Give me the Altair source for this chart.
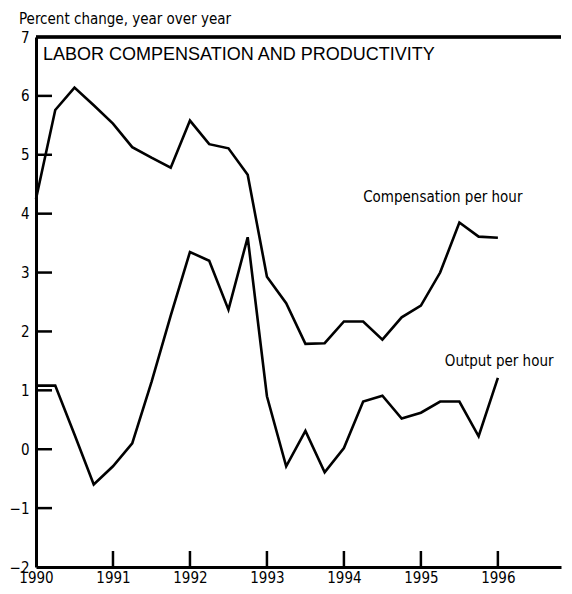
import altair as alt
import pandas as pd

# ---- data ----
quarters = [1990.0, 1990.25, 1990.5, 1990.75, 1991.0, 1991.25, 1991.5, 1991.75,
            1992.0, 1992.25, 1992.5, 1992.75, 1993.0, 1993.25, 1993.5, 1993.75,
            1994.0, 1994.25, 1994.5, 1994.75, 1995.0, 1995.25, 1995.5, 1995.75,
            1996.0]
compensation = [4.25, 5.76, 6.14, 5.84, 5.53, 5.13, 4.95, 4.78,
                5.58, 5.18, 5.11, 4.66, 2.93, 2.48, 1.79, 1.80,
                2.17, 2.17, 1.86, 2.24, 2.44, 3.00, 3.85, 3.61,
                3.59]
output_ph = [1.08, 1.08, 0.25, -0.60, -0.29, 0.10, 1.14, 2.27,
             3.35, 3.20, 2.37, 3.60, 0.90, -0.29, 0.31, -0.39,
             0.02, 0.81, 0.91, 0.52, 0.62, 0.81, 0.81, 0.22,
             1.21]
series_names = ["Compensation per hour", "Output per hour"]
x_tick_values = [1990, 1991, 1992, 1993, 1994, 1995, 1996]
inner_x_ticks = [1991, 1992, 1993, 1994, 1995, 1996]
y_tick_values = [-2, -1, 0, 1, 2, 3, 4, 5, 6, 7]
inner_y_ticks = [-1, 0, 1, 2, 3, 4, 5, 6]
label_text = series_names
label_x = [1994.25, 1995.31]
label_y = [4.28, 1.49]
panel_title = "LABOR COMPENSATION AND PRODUCTIVITY"
panel_title_x = [1990.09]
panel_title_y = [6.69]
y_title = "Percent change, year over year"

X_MAX = 1996.82
W, H = 525, 530
NARROW = "Liberation Sans Narrow, DejaVu Sans Condensed, Roboto Condensed, sans-serif"

lines_df = pd.DataFrame({
    "t": quarters * 2,
    "v": compensation + output_ph,
    "s": [series_names[0]] * len(quarters) + [series_names[1]] * len(quarters),
})
xt_df = pd.DataFrame({"t": inner_x_ticks})
yt_df = pd.DataFrame({"v": inner_y_ticks})
lab_df = pd.DataFrame({"label": label_text, "t": label_x, "v": label_y})
ptitle_df = pd.DataFrame({"label": [panel_title], "t": panel_title_x, "v": panel_title_y})

xs = alt.Scale(domain=[1990, X_MAX], nice=False, zero=False)
ys = alt.Scale(domain=[-2, 7], nice=False, zero=False)

x_axis = alt.Axis(values=x_tick_values, format="d", ticks=False, grid=False,
                  domainColor="black", domainWidth=3, labelFont=NARROW,
                  labelFontSize=15, labelColor="black", labelPadding=3,
                  labelFlush=False, title=None)
y_axis = alt.Axis(values=y_tick_values, format="d", ticks=False, grid=False,
                  domainColor="black", domainWidth=3, labelFont=NARROW,
                  labelFontSize=15, labelColor="black", labelPadding=7,
                  labelFlush=False,
                  labelExpr="replace(datum.label, '-', '\u2212')", title=None)

X = lambda f: alt.X(f, scale=xs, axis=x_axis)
Y = lambda f: alt.Y(f, scale=ys, axis=y_axis)

lines = alt.Chart(lines_df).mark_line(color="black", strokeWidth=2.6).encode(
    x=X("t:Q"), y=Y("v:Q"), detail="s:N",
)

# top frame line of the plot area
top_border = alt.Chart(xt_df).mark_rule(color="black", strokeWidth=2.5).encode(
    y=alt.value(0), x=alt.value(0), x2=alt.value(W)
)

x_ticks = alt.Chart(xt_df).mark_rule(color="black", strokeWidth=2.5).encode(
    x=X("t:Q"), y=alt.value(H), y2=alt.value(H - 16)
)
y_ticks = alt.Chart(yt_df).mark_rule(color="black", strokeWidth=2.5).encode(
    y=Y("v:Q"), x=alt.value(0), x2=alt.value(16)
)

labels = alt.Chart(lab_df).mark_text(align="left", baseline="middle", font=NARROW,
                                     fontSize=15, color="black").encode(
    x=X("t:Q"), y=Y("v:Q"), text="label:N"
)
ptitle = alt.Chart(ptitle_df).mark_text(align="left", baseline="middle",
                                        font="Liberation Sans, Arial, sans-serif",
                                        fontSize=18, color="black").encode(
    x=X("t:Q"), y=Y("v:Q"), text="label:N"
)

chart = alt.layer(lines, top_border, x_ticks, y_ticks, labels, ptitle).properties(
    width=W, height=H,
    autosize=alt.AutoSizeParams(type="none"),
    padding={"left": 28, "top": 29, "right": 3, "bottom": 19},
    view=alt.ViewBackground(stroke="transparent", strokeWidth=0, fill="white"),
    title=alt.TitleParams(y_title, anchor="start", frame="group", dx=-17,
                          offset=3, font=NARROW, fontSize=15,
                          fontWeight="normal", color="black"),
    background="white",
).configure_view(stroke="transparent", strokeWidth=0)

chart.save("out.html", embed_options={"renderer": "svg", "actions": False})
